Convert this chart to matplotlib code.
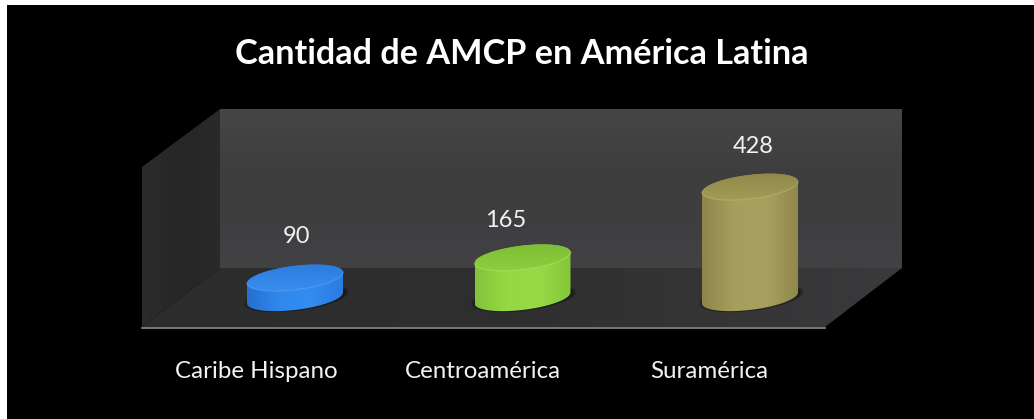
import numpy as np
import matplotlib
matplotlib.use("Agg")
import matplotlib.pyplot as plt
from matplotlib.patches import Polygon, Rectangle
from matplotlib.colors import LinearSegmentedColormap

title = "Cantidad de AMCP en América Latina"
categories = ["Caribe Hispano", "Centroamérica", "Suramérica"]
values = [90, 165, 428]

W, H = 1034, 419
plt.rcParams['font.family'] = ['Lato', 'DejaVu Sans']
fig = plt.figure(figsize=(W / 100, H / 100), dpi=100, facecolor='white')

# pixel-space layer for the 3D box and text
bg = fig.add_axes([0, 0, 1, 1])
bg.set_xlim(0, W); bg.set_ylim(H, 0); bg.axis('off')
bg.add_patch(Rectangle((7, 5), W - 7, H - 5, fc='black', ec='none', zorder=0))


def grad_poly(ax, pts, colors, extent, horizontal=False, zorder=1):
    cmap = LinearSegmentedColormap.from_list('c', colors)
    g = np.linspace(0, 1, 256)
    arr = g[None, :] if horizontal else g[:, None]
    xl, yl = ax.get_xlim(), ax.get_ylim()
    im = ax.imshow(arr, cmap=cmap, extent=extent, aspect='auto', zorder=zorder,
                   interpolation='bilinear')
    poly = Polygon(pts, closed=True, transform=ax.transData, fc='none', ec='none')
    ax.add_patch(poly)
    im.set_clip_path(poly)
    ax.set_xlim(xl); ax.set_ylim(yl)


# back wall
grad_poly(bg, [(220, 109), (902, 109), (902, 268), (220, 268)],
          ['#464646', '#3f3f3f', '#3e3e40', '#424244'], (220, 902, 268, 109), zorder=1)
# left wall
grad_poly(bg, [(142, 167), (220, 109), (220, 268), (142, 327)],
          ['#2c2c2c', '#262626', '#2a2a2a'], (142, 220, 327, 109), horizontal=True, zorder=1)
# floor
grad_poly(bg, [(142, 327), (220, 268), (902, 268), (825, 327)],
          ['#2c2c2c', '#2f2f2f', '#3a3a3c'], (142, 902, 327, 268), horizontal=True, zorder=1)
bg.plot([142, 825], [328, 328], color='#8c8c8c', lw=1.2, zorder=2)

# data layer: category index on x, value on y
x0_px, dx_px = 295.0, 227.5
y0_px, sy_px = 302.0, 0.269
top_px, bot_px = 109.0, 345.0
ax = fig.add_axes([(x0_px - 0.5 * dx_px) / W, 1 - bot_px / H, 3 * dx_px / W, (bot_px - top_px) / H])
ax.set_xlim(-0.5, 2.5)
ax.set_ylim(-(bot_px - y0_px) / sy_px, (y0_px - top_px) / sy_px)
ax.axis('off'); ax.patch.set_alpha(0)

A = 48.0 / dx_px           # half width, category units
B = 12.0 / sy_px           # ellipse minor radius, value units
S = 5.5 / sy_px            # tilt rise at right edge, value units
BASE = 15.0                # visual base level of the cylinders

styles = [
    dict(body=['#2470cf', '#3088ec', '#338cf0', '#2a7be0'], top=['#2c7bdc', '#3a8ef0'], rim='#5aa4f5'),
    dict(body=['#84c23a', '#95d843', '#98da46', '#85c63a'], top=['#7dbd35', '#8ed040'], rim='#b0e566'),
    dict(body=['#8d864a', '#a69e5c', '#a8a05e', '#8f884a'], top=['#8f8849', '#a39b56'], rim='#bdb473'),
]


def ell(cx, cy, t, a=A, b=B, s=S):
    return cx + a * np.cos(t), cy + b * np.sin(t) + s * np.cos(t)


for i, (v, st) in enumerate(zip(values, styles)):
    # soft shadow
    t = np.linspace(0, 2 * np.pi, 90)
    for k in range(6):
        f = 1.10 - k * 0.02
        sx, sy = ell(i + 0.006, BASE, t, A * f, B * f, S * f)
        ax.add_patch(Polygon(np.c_[sx, sy], fc='black', ec='none', alpha=0.09, zorder=3, clip_on=False))
    # body
    t1 = np.linspace(0, np.pi, 60)
    t2 = np.linspace(np.pi, 2 * np.pi, 60)
    xt, yt = ell(i, v, t1)
    xb, yb = ell(i, BASE, t2)
    body = np.r_[np.c_[xt, yt], np.c_[xb, yb]]
    grad_poly(ax, body, st['body'], (i - A, i + A, BASE - 2 * B, v + 2 * B), horizontal=True, zorder=4)
    # top face
    xe, ye = ell(i, v, np.linspace(0, 2 * np.pi, 120))
    grad_poly(ax, np.c_[xe, ye], st['top'], (i - A, i + A, v - 1.2 * B, v + 1.2 * B), zorder=5)
    # front rim highlight
    xr, yr = ell(i, v, t2)
    ax.plot(xr, yr, color=st['rim'], lw=0.9, alpha=0.55, zorder=6, clip_on=False)

# text
bg2 = fig.add_axes([0, 0, 1, 1])
bg2.set_xlim(0, W); bg2.set_ylim(H, 0); bg2.axis('off'); bg2.patch.set_alpha(0)
bg2.text(522, 54, title, color='white', fontsize=24.7, fontweight='bold', ha='center', va='center')
value_pos = [(297, 236), (506, 220), (753, 146)]
for v, (px, py) in zip(values, value_pos):
    bg2.text(px, py, str(v), color='#f2f2f2', fontsize=17, ha='center', va='center')
label_pos = [256, 483, 709]
for c, px in zip(categories, label_pos):
    bg2.text(px, 371, c, color='#f2f2f2', fontsize=17.4, ha='center', va='center')

fig.savefig('out.png', dpi=100, facecolor='white')
